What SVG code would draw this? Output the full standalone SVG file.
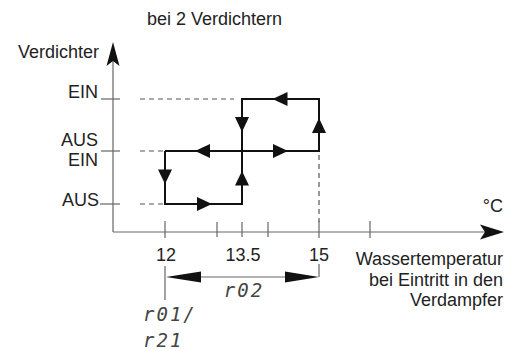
<svg xmlns="http://www.w3.org/2000/svg" width="520" height="351" viewBox="0 0 520 351">
<style>
  .t { font-family: "Liberation Sans", Arial, sans-serif; font-size: 18px; fill: #222; }
  .e { text-anchor: end; }
  .m { text-anchor: middle; }
  .seg { font-family: "DejaVu Sans Mono", "Liberation Mono", monospace; font-style: italic; font-size: 19px; fill: #444; letter-spacing: 2px; }
  .ax { stroke: #666; stroke-width: 1.2; fill: none; }
  .dash { stroke: #555; stroke-width: 1.2; stroke-dasharray: 5 4; fill: none; }
  .loop { stroke: #111; stroke-width: 2; fill: none; }
  .ah { fill: #111; }
</style>
<rect width="520" height="351" fill="#fff"/>

<g id="title"><text class="t" x="147" y="25">bei 2 Verdichtern</text></g>

<g id="y-axis">
  <line class="ax" x1="113" y1="58" x2="113" y2="232"/>
  <path d="M113,42 L119.5,66 L113,61 L106.5,66 Z" fill="#111"/>
  <text class="t" x="18" y="58">Verdichter</text>
  <line class="ax" x1="101" y1="99" x2="120" y2="99"/>
  <line class="ax" x1="101" y1="151" x2="120" y2="151"/>
  <line class="ax" x1="100" y1="204" x2="120" y2="204"/>
  <text class="t e" x="98" y="98">EIN</text>
  <text class="t e" x="98" y="146">AUS</text>
  <text class="t e" x="98" y="166">EIN</text>
  <text class="t e" x="99" y="206">AUS</text>
</g>

<g id="x-axis">
  <line class="ax" x1="113" y1="232" x2="486" y2="232"/>
  <path d="M504,232 L480,224.5 L485,232 L480,239.5 Z" fill="#111"/>
  <line class="ax" x1="165" y1="221" x2="165" y2="238"/>
  <line class="ax" x1="217" y1="222" x2="217" y2="237"/>
  <line class="ax" x1="242" y1="222" x2="242" y2="237"/>
  <line class="ax" x1="268" y1="222" x2="268" y2="237"/>
  <line class="ax" x1="319" y1="221" x2="319" y2="238"/>
  <line class="ax" x1="370" y1="221" x2="370" y2="238"/>
  <text class="t m" x="166" y="261">12</text>
  <text class="t m" x="243" y="261">13.5</text>
  <text class="t m" x="319" y="261">15</text>
  <text class="t e" x="503" y="212">°C</text>
  <text class="t e" x="503" y="265">Wassertemperatur</text>
  <text class="t e" x="503" y="285.5">bei Eintritt in den</text>
  <text class="t e" x="503" y="306">Verdampfer</text>
</g>

<g id="connectors">
  <line class="dash" x1="140" y1="99" x2="234" y2="99"/>
  <line class="dash" x1="140" y1="151" x2="165" y2="151"/>
  <line class="dash" x1="140" y1="204" x2="165" y2="204"/>
  <line class="dash" x1="319" y1="155" x2="319" y2="222"/>

  <path class="loop" d="M165,151 L165,204 L242,204 L242,99 L319,99 L319,151 L165,151"/>
  <path class="ah" d="M212,204 L197,197 L197,211 Z"/>
  <path class="ah" d="M242,171 L235,185.5 L249,185.5 Z"/>
  <path class="ah" d="M288,151 L273,144 L273,158 Z"/>
  <path class="ah" d="M195,151 L210,144 L210,158 Z"/>
  <path class="ah" d="M319,118 L312,133 L326,133 Z"/>
  <path class="ah" d="M272.5,99 L287.5,92 L287.5,106 Z"/>
  <path class="ah" d="M242,132 L235,117 L249,117 Z"/>
  <path class="ah" d="M165,184 L158,169.5 L172,169.5 Z"/>
</g>

<g id="dimension">
  <line class="ax" x1="165" y1="266" x2="165" y2="300"/>
  <line class="ax" x1="319" y1="264" x2="319" y2="277"/>
  <line class="ax" x1="185" y1="277" x2="300" y2="277"/>
  <path d="M166,277 L201,271.5 L201,282.5 Z" fill="#111"/>
  <path d="M319,277 L285,271.5 L285,282.5 Z" fill="#111"/>
  <text class="seg m" x="244" y="297">r02</text>
  <text class="seg" x="143" y="321">r01/</text>
  <text class="seg" x="143" y="347">r21</text>
</g>
</svg>
